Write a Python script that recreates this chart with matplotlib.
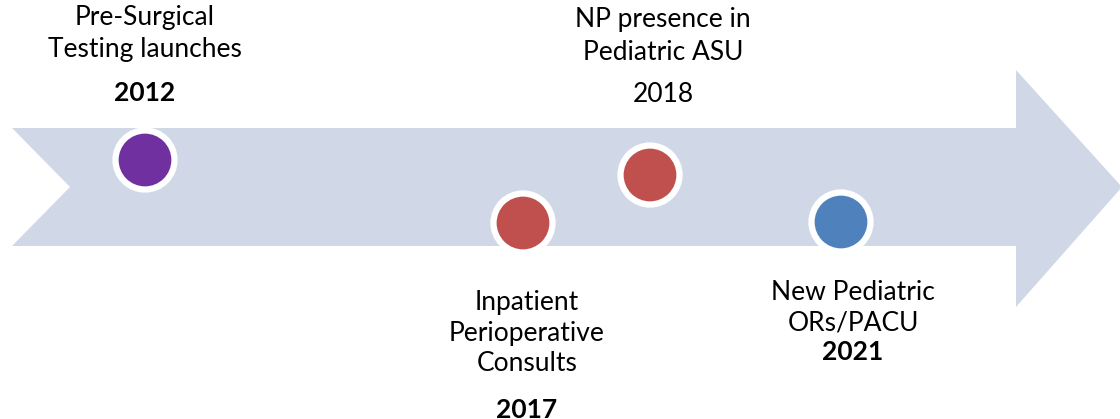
import matplotlib.pyplot as plt
from matplotlib.patches import Polygon, Circle

# timeline events
labels = [
    "Pre-Surgical\nTesting launches",
    "Inpatient\nPerioperative\nConsults",
    "NP presence in\nPediatric ASU",
    "New Pediatric\nORs/PACU",
]
years = ["2012", "2017", "2018", "2021"]
year_bold = [True, True, False, True]
colors = ["#7030A0", "#C0504D", "#C0504D", "#4F81BD"]

# marker centres (pixel coords, y down)
dot_x = [145, 523, 650, 841]
dot_y = [160, 223, 175, 222]

# label / year centres
label_x = [145, 527, 663, 853]
label_y = [34, 333, 36, 308]
year_y = [93, 410, 95, 352]
line_gap = [1.35, 1.27, 1.35, 1.27]

ARROW_COLOR = "#D0D8E8"
FONT = ["Lato", "DejaVu Sans"]
W, H = 1120, 419

fig = plt.figure(figsize=(W / 100, H / 100), dpi=100)
ax = fig.add_axes([0, 0, 1, 1])
ax.set_xlim(0, W)
ax.set_ylim(H, 0)
ax.axis("off")

# big arrow with notched tail
arrow = [
    (12, 128), (1016, 128), (1016, 70), (1122, 187), (1016, 307),
    (1016, 246), (12, 246), (70, 187),
]
ax.add_patch(Polygon(arrow, closed=True, facecolor=ARROW_COLOR, edgecolor="none"))

for x, y, c in zip(dot_x, dot_y, colors):
    ax.add_patch(Circle((x, y), 29.5, facecolor=c, edgecolor="white", linewidth=4.5, zorder=3))

for lx, ly, yy, lab, yr, b, ls in zip(label_x, label_y, year_y, labels, years, year_bold, line_gap):
    ax.text(lx, ly, lab, ha="center", va="center", fontsize=19, family=FONT,
            linespacing=ls, color="black")
    ax.text(lx, yy, yr, ha="center", va="center", fontsize=19, family=FONT,
            fontweight="bold" if b else "normal", color="black")

fig.savefig("out.png", dpi=100)
